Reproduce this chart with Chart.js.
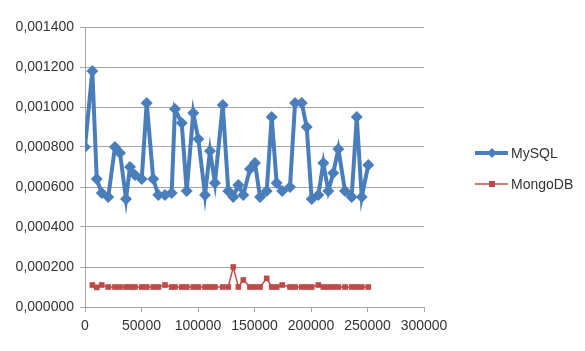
<!DOCTYPE html>
<html>
<head>
<meta charset="utf-8">
<script src="https://cdn.jsdelivr.net/npm/chart.js@4/dist/chart.umd.min.js"></script>
<style>
  html, body { margin: 0; padding: 0; background: #fff; }
  #wrap { width: 585px; height: 351px; position: relative; }
</style>
</head>
<body>
<div id="wrap"><canvas id="chart" width="585" height="351"></canvas></div>
<script>
// Records (x) and time per operation (y).
const mysqlX = [0, 6500, 10400, 14800, 20600, 26500, 31000, 36300, 39800, 44200,
  50200, 54600, 60400, 64900, 70800, 76700, 79600, 85600, 90000, 95800,
  100300, 106200, 110600, 115000, 121900, 126800, 131200, 135700, 140100, 146000,
  150400, 154900, 160800, 165200, 169600, 174500, 181400, 185900, 191800, 196200,
  200600, 206500, 210900, 215300, 219700, 224200, 230100, 236000, 240500, 244900,
  250700];
const mysqlY = [0.00080, 0.00118, 0.00064, 0.00057, 0.00055, 0.00080, 0.00077, 0.00054, 0.00070, 0.00066,
  0.00064, 0.00102, 0.00064, 0.00056, 0.00056, 0.00057, 0.00099, 0.00092, 0.00058, 0.00097,
  0.00084, 0.00056, 0.00078, 0.00062, 0.00101, 0.00058, 0.00055, 0.00061, 0.00056, 0.00069,
  0.00072, 0.00055, 0.00058, 0.00095, 0.00062, 0.00058, 0.00060, 0.00102, 0.00102, 0.00090,
  0.00054, 0.00056, 0.00072, 0.00058, 0.00067, 0.00079, 0.00058, 0.00055, 0.00095, 0.00055,
  0.00071];

const mongoX = [6500, 10400, 14800, 20600, 26500, 31000, 36300, 39800, 44200,
  50200, 54600, 60400, 64900, 70800, 76700, 79600, 85600, 90000, 95800,
  100300, 106200, 110600, 115000, 121900, 126800, 131200, 135700, 140100, 146000,
  150400, 154900, 160800, 165200, 169600, 174500, 181400, 185900, 191800, 196200,
  200600, 206500, 210900, 215300, 219700, 224200, 230100, 236000, 240500, 244900,
  250700];
const mongoY = [0.00011, 0.000098, 0.00011, 0.0001, 0.0001, 0.0001, 0.0001, 0.0001, 0.0001,
  0.0001, 0.0001, 0.0001, 0.0001, 0.00011, 0.0001, 0.0001, 0.0001, 0.0001, 0.0001,
  0.0001, 0.0001, 0.0001, 0.0001, 0.0001, 0.0001, 0.0002, 0.0001, 0.000135, 0.0001,
  0.0001, 0.0001, 0.000143, 0.0001, 0.0001, 0.00011, 0.0001, 0.0001, 0.0001, 0.0001,
  0.0001, 0.00011, 0.0001, 0.0001, 0.0001, 0.0001, 0.0001, 0.0001, 0.0001, 0.0001,
  0.0001];

const toPoints = (xs, ys) => xs.map((x, i) => ({ x: x, y: ys[i] }));

const gridColor = '#a6a6a6';
const textColor = '#333333';
const fontFamily = '"Liberation Sans", Arial, sans-serif';

// draws the Excel-style legend (line + marker + label) to the right of the plot
const sideLegend = {
  id: 'sideLegend',
  afterDraw: (chart) => {
    const ctx = chart.ctx;
    const rows = [153, 184];
    chart.data.datasets.forEach((ds, i) => {
      const y = rows[i];
      ctx.save();
      ctx.strokeStyle = ds.borderColor;
      ctx.lineWidth = ds.borderWidth;
      ctx.beginPath();
      ctx.moveTo(475, y);
      ctx.lineTo(508, y);
      ctx.stroke();
      ctx.fillStyle = ds.pointBackgroundColor;
      ctx.beginPath();
      if (ds.pointStyle === 'rectRot') {
        const r = 5;
        ctx.moveTo(492, y - r);
        ctx.lineTo(492 + r, y);
        ctx.lineTo(492, y + r);
        ctx.lineTo(492 - r, y);
        ctx.closePath();
      }
      else {
        ctx.rect(489, y - 3, 6, 6);
      }
      ctx.fill();
      ctx.fillStyle = textColor;
      ctx.font = '14px ' + fontFamily;
      ctx.textBaseline = 'middle';
      ctx.fillText(ds.label, 511, y + 1);
      ctx.restore();
    });
  }
};

new Chart(document.getElementById('chart'), {
  type: 'line',
  data: {
    datasets: [
      {
        label: 'MySQL',
        data: toPoints(mysqlX, mysqlY),
        borderColor: '#4a7ebb',
        backgroundColor: '#4a7ebb',
        pointBackgroundColor: '#4a7ebb',
        pointBorderColor: '#4a7ebb',
        borderWidth: 4,
        pointStyle: 'rectRot',
        pointRadius: 6,
        pointBorderWidth: 0,
        tension: 0
      },
      {
        label: 'MongoDB',
        data: toPoints(mongoX, mongoY),
        borderColor: '#c0504d',
        backgroundColor: '#be4b48',
        pointBackgroundColor: '#be4b48',
        pointBorderColor: '#be4b48',
        borderWidth: 1.5,
        pointStyle: 'rect',
        pointRadius: 4,
        pointBorderWidth: 0,
        tension: 0
      }
    ]
  },
  options: {
    responsive: false,
    animation: false,
    layout: { padding: { left: 0, right: 161, top: 27, bottom: 0 } },
    plugins: {
      legend: { display: false },
      tooltip: { enabled: false }
    },
    scales: {
      x: {
        type: 'linear',
        min: 0,
        max: 300000,
        ticks: {
          stepSize: 50000,
          color: textColor,
          font: { family: fontFamily, size: 14 },
          maxRotation: 0,
          padding: 6,
          callback: (v) => String(v)
        },
        grid: { drawOnChartArea: false, drawTicks: true, tickLength: 5, color: gridColor },
        border: { color: gridColor },
        afterFit: (scale) => { scale.height = 44; }
      },
      y: {
        min: 0,
        max: 0.0014,
        ticks: {
          stepSize: 0.0002,
          color: textColor,
          font: { family: fontFamily, size: 14 },
          padding: 6,
          callback: (v) => Number(v).toFixed(6).replace('.', ',')
        },
        grid: { color: gridColor, tickLength: 5 },
        border: { color: gridColor },
        afterFit: (scale) => { scale.width = 85; }
      }
    }
  },
  plugins: [sideLegend]
});
</script>
</body>
</html>
